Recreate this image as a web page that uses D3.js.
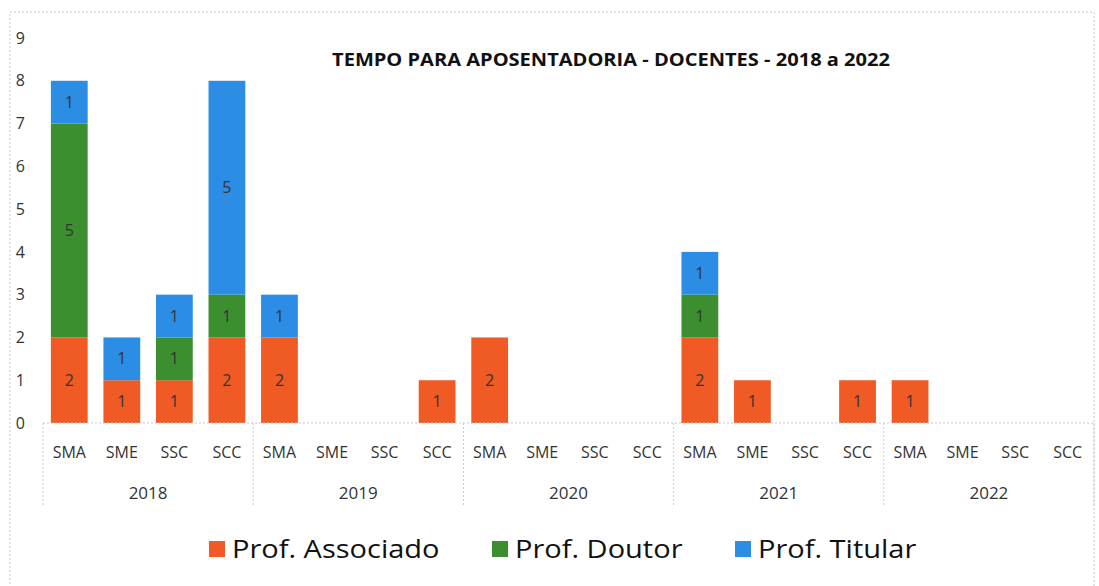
<!DOCTYPE html>
<html>
<head>
<meta charset="utf-8">
<script src="https://cdn.jsdelivr.net/npm/d3@7"></script>
<style>
  body { margin: 0; background: #fff; }
  #chart { width: 1099px; height: 586px; }
  text { font-family: "Open Sans", Lato, sans-serif; }
</style>
</head>
<body>
<div id="chart"></div>
<script>
// Data
const years = ["2018", "2019", "2020", "2021", "2022"];
const depts = ["SMA", "SME", "SSC", "SCC"];
const seriesNames = ["Prof. Associado", "Prof. Doutor", "Prof. Titular"];
// values ordered year by year, dept by dept
const associado = [2, 1, 1, 2,  2, 0, 0, 1,  2, 0, 0, 0,  2, 1, 0, 1,  1, 0, 0, 0];
const doutor    = [5, 0, 1, 1,  0, 0, 0, 0,  0, 0, 0, 0,  1, 0, 0, 0,  0, 0, 0, 0];
const titular   = [1, 1, 1, 5,  1, 0, 0, 0,  0, 0, 0, 0,  1, 0, 0, 0,  0, 0, 0, 0];
const yTicks = [0, 1, 2, 3, 4, 5, 6, 7, 8, 9];

const colors = ["#F05A24", "#3B8F2F", "#2B8DE4"];

const W = 1099, H = 586;
const margin = { top: 38, right: 5, bottom: 163, left: 43 };
const width = W - margin.left - margin.right;
const height = H - margin.top - margin.bottom;

const svg = d3.select("#chart").append("svg")
    .attr("width", W)
    .attr("height", H);

// dashed frame of the chart area
svg.append("rect")
    .attr("x", 10).attr("y", 12)
    .attr("width", 1084).attr("height", 600)
    .attr("fill", "none")
    .attr("stroke", "#c8c8c8")
    .attr("stroke-dasharray", "2 2");

const g = svg.append("g").attr("transform", `translate(${margin.left},${margin.top})`);

// build rows
const rows = [];
years.forEach((yr, i) => {
    depts.forEach((d, j) => {
        const k = i * depts.length + j;
        rows.push({ key: yr + "-" + d, year: yr, dept: d,
            "Prof. Associado": associado[k], "Prof. Doutor": doutor[k], "Prof. Titular": titular[k] });
    });
});

const x = d3.scaleBand()
    .domain(rows.map(r => r.key))
    .range([0, width])
    .paddingInner(0.3)
    .paddingOuter(0.15);

const y = d3.scaleLinear().domain([0, 9]).range([height, 0]);

// Y axis labels
const yAxis = g.append("g")
    .call(d3.axisLeft(y).tickValues(yTicks).tickSize(0).tickPadding(18));
yAxis.select(".domain").remove();
yAxis.selectAll("text")
    .attr("font-size", 16)
    .attr("fill", "#333")
    .style("font-family", "'Open Sans', sans-serif");

// stacked bars
const stack = d3.stack().keys(seriesNames);
const stacked = stack(rows);

stacked.forEach((layer, si) => {
    const grp = g.append("g");
    grp.selectAll("rect")
        .data(layer.filter(d => d[1] - d[0] > 0))
        .enter().append("rect")
        .attr("x", d => x(d.data.key))
        .attr("y", d => y(d[1]))
        .attr("width", x.bandwidth())
        .attr("height", d => y(d[0]) - y(d[1]))
        .attr("fill", colors[si]);
    grp.selectAll("text")
        .data(layer.filter(d => d[1] - d[0] > 0))
        .enter().append("text")
        .attr("x", d => x(d.data.key) + x.bandwidth() / 2)
        .attr("y", d => y((d[0] + d[1]) / 2))
        .attr("dy", "0.35em")
        .attr("text-anchor", "middle")
        .attr("font-size", 16)
        .attr("fill", "#333")
        .text(d => d[1] - d[0]);
});

// baseline
g.append("line")
    .attr("x1", 0).attr("x2", width)
    .attr("y1", height).attr("y2", height)
    .attr("stroke", "#c8c8c8")
    .attr("stroke-dasharray", "2 2");

// category labels
const step = width / rows.length;
g.selectAll(".cat")
    .data(rows)
    .enter().append("text")
    .attr("class", "cat")
    .attr("x", (d, i) => (i + 0.5) * step)
    .attr("y", height + 35)
    .attr("text-anchor", "middle")
    .attr("font-size", 16)
    .attr("fill", "#333")
    .text(d => d.dept);

// year group separators and labels
const yearW = width / years.length;
g.selectAll(".sep")
    .data(d3.range(years.length + 1))
    .enter().append("line")
    .attr("x1", d => d * yearW).attr("x2", d => d * yearW)
    .attr("y1", height).attr("y2", height + 82)
    .attr("stroke", "#c8c8c8")
    .attr("stroke-dasharray", "2 2");

g.selectAll(".yr")
    .data(years)
    .enter().append("text")
    .attr("x", (d, i) => (i + 0.5) * yearW)
    .attr("y", height + 76)
    .attr("text-anchor", "middle")
    .attr("font-size", 17)
    .attr("fill", "#333")
    .text(d => d);

// title (scan is a bit wider than the font, so stretch horizontally)
svg.append("text")
    .attr("transform", "translate(611,66) scale(1.18,1)")
    .attr("text-anchor", "middle")
    .attr("font-size", 17)
    .attr("font-weight", "bold")
    .attr("fill", "#111")
    .text("TEMPO PARA APOSENTADORIA - DOCENTES - 2018 a 2022");

// legend
const legendX = [209, 492, 735];
const legend = svg.append("g");
seriesNames.forEach((s, i) => {
    legend.append("rect")
        .attr("x", legendX[i]).attr("y", 541)
        .attr("width", 16).attr("height", 16)
        .attr("fill", colors[i]);
    legend.append("text")
        .attr("transform", `translate(${legendX[i] + 23},549) scale(1.16,1)`)
        .attr("dy", "0.35em")
        .attr("font-size", 25)
        .attr("fill", "#111")
        .text(s);
});
</script>
</body>
</html>
